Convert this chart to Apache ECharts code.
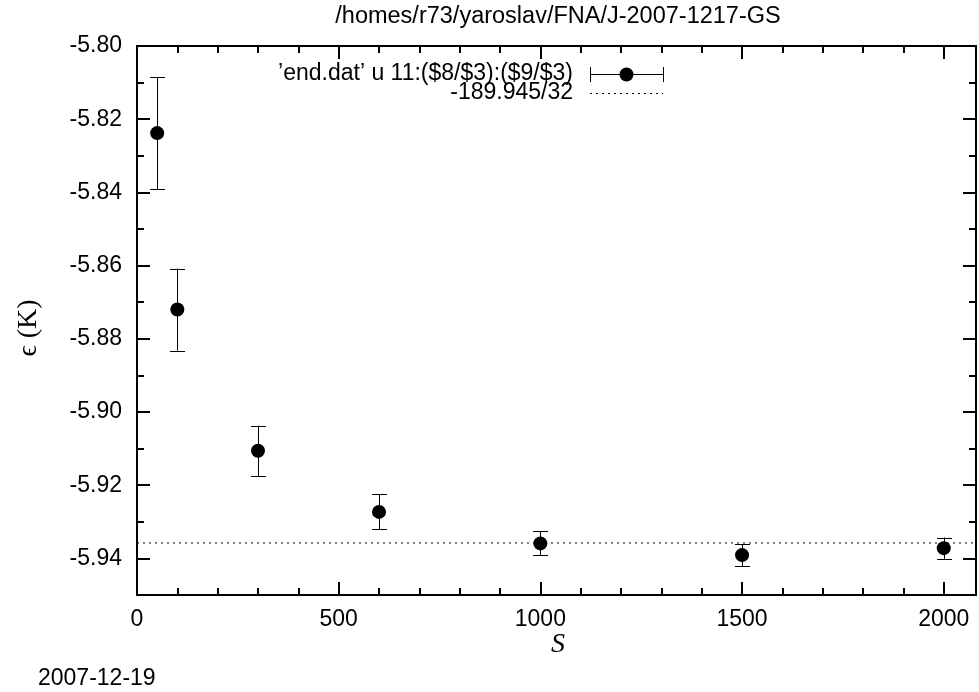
<!DOCTYPE html>
<html>
<head>
<meta charset="utf-8">
<script src="https://cdn.jsdelivr.net/npm/echarts@6/dist/echarts.min.js"></script>
<style>
html,body{margin:0;padding:0;background:#fff;}
#chart{width:979px;height:692px;}
</style>
</head>
<body>
<div id="chart"></div>
<script>
// ---- data ----
const sizes = [50, 100, 300, 600, 1000, 1500, 2000];
const energy = [-5.8238, -5.8720, -5.9106, -5.9273, -5.9359, -5.9391, -5.9372];
const errors = [0.0153, 0.0112, 0.0069, 0.0048, 0.0033, 0.0030, 0.0029];
const refNumerator = -189.945;
const refDenominator = 32;
const xMajorTicks = [0, 500, 1000, 1500, 2000];
const yMajorTicks = [-5.94, -5.92, -5.90, -5.88, -5.86, -5.84, -5.82, -5.80];
const titleText = '/homes/r73/yaroslav/FNA/J-2007-1217-GS';
const dateText = '2007-12-19';
const legendLabels = ["\u2019end.dat\u2019 u 11:($8/$3):($9/$3)", '-189.945/32'];

const X_MIN = 0, X_MAX = 2080, Y_MIN = -5.95, Y_MAX = -5.80;
const refValue = refNumerator / refDenominator;
const points = sizes.map((s, i) => [s, energy[i]]);
const bars = sizes.map((s, i) => [s, energy[i] - errors[i], energy[i] + errors[i]]);
const refLine = [[X_MIN, refValue], [X_MAX, refValue]];

const SANS = 'Liberation Sans, Arial, Helvetica, sans-serif';
const SERIF = 'Liberation Serif, DejaVu Serif, Times New Roman, serif';
const FS = 23;

const chart = echarts.init(document.getElementById('chart'), null, {renderer: 'canvas'});

function xAxisDef(pos, major, showLabel) {
  return {
    type: 'value', position: pos, min: X_MIN, max: X_MAX,
    interval: major ? 500 : 100,
    splitLine: {show: false},
    axisLine: {show: major, onZero: false, lineStyle: {color: '#000', width: 2}},
    axisTick: {show: true, inside: true, length: major ? 13 : 7,
      lineStyle: {color: '#000', width: 2},
      customValues: major ? xMajorTicks : undefined},
    axisLabel: {show: showLabel, margin: 13, color: '#000', fontSize: FS, fontFamily: SANS,
      customValues: showLabel ? xMajorTicks : undefined,
      formatter: v => String(Math.round(v))}
  };
}
function yAxisDef(pos, major, showLabel) {
  return {
    type: 'value', position: pos, min: Y_MIN, max: Y_MAX,
    interval: 0.01,
    splitLine: {show: false},
    axisLine: {show: major, onZero: false, lineStyle: {color: '#000', width: 2}},
    axisTick: {show: true, inside: true, length: major ? 13 : 7,
      lineStyle: {color: '#000', width: 2},
      customValues: major ? yMajorTicks : undefined},
    axisLabel: {show: showLabel, margin: 15, color: '#000', fontSize: FS, fontFamily: SANS,
      customValues: showLabel ? yMajorTicks : undefined,
      formatter: v => v.toFixed(2)}
  };
}

const legendX = 590, legendX2 = 663, legendY1 = 74, legendY2 = 93;

const option = {
  animation: false,
  backgroundColor: '#fff',
  grid: {left: 137, right: 3, top: 46, bottom: 97, containLabel: false},
  xAxis: [
    xAxisDef('bottom', true, true),
    xAxisDef('top', true, false),
    xAxisDef('bottom', false, false),
    xAxisDef('top', false, false)
  ],
  yAxis: [
    yAxisDef('left', true, true),
    yAxisDef('right', true, false),
    yAxisDef('left', false, false),
    yAxisDef('right', false, false)
  ],
  series: [
    {
      type: 'line',
      xAxisIndex: 0, yAxisIndex: 0,
      data: refLine,
      showSymbol: false,
      silent: true,
      lineStyle: {color: '#000', width: 1, type: [2, 4]},
      z: 1
    },
    {
      type: 'custom',
      xAxisIndex: 0, yAxisIndex: 0,
      data: bars,
      encode: {x: 0, y: [1, 2]},
      z: 2,
      renderItem: function (params, api) {
        const x = api.value(0);
        const lo = api.coord([x, api.value(1)]);
        const hi = api.coord([x, api.value(2)]);
        const hw = 7.5;
        const cx = Math.round(lo[0]) + 0.5;
        const style = {stroke: '#000', lineWidth: 1};
        return {
          type: 'group',
          children: [
            {type: 'line', shape: {x1: cx, y1: lo[1], x2: cx, y2: hi[1]}, style: style},
            {type: 'line', shape: {x1: cx - hw, y1: Math.round(lo[1]) + 0.5, x2: cx + hw, y2: Math.round(lo[1]) + 0.5}, style: style},
            {type: 'line', shape: {x1: cx - hw, y1: Math.round(hi[1]) + 0.5, x2: cx + hw, y2: Math.round(hi[1]) + 0.5}, style: style}
          ]
        };
      }
    },
    {
      type: 'scatter',
      xAxisIndex: 0, yAxisIndex: 0,
      data: points,
      symbol: 'circle',
      symbolSize: 14,
      itemStyle: {color: '#000', opacity: 1},
      z: 3
    }
  ],
  graphic: [
    {type: 'text', x: 558, y: 17, style: {text: titleText, font: '23.5px ' + SANS, fill: '#000', textAlign: 'center', textVerticalAlign: 'middle'}},
    {type: 'text', x: 38, y: 679, style: {text: dateText, font: FS + 'px ' + SANS, fill: '#000', textAlign: 'left', textVerticalAlign: 'middle'}},
    {type: 'text', x: 558, y: 645, style: {text: 'S', font: 'italic 28px ' + SERIF, fill: '#000', textAlign: 'center', textVerticalAlign: 'middle'}},
    {type: 'text', x: 29, y: 328, rotation: Math.PI / 2, style: {text: '\u03F5 (K)', font: '28px ' + SERIF, fill: '#000', textAlign: 'center', textVerticalAlign: 'middle'}},
    // legend
    {type: 'text', x: 573, y: legendY1, style: {text: legendLabels[0], font: FS + 'px ' + SANS, fill: '#000', textAlign: 'right', textVerticalAlign: 'middle'}},
    {type: 'text', x: 573, y: legendY2, style: {text: legendLabels[1], font: FS + 'px ' + SANS, fill: '#000', textAlign: 'right', textVerticalAlign: 'middle'}},
    {type: 'line', shape: {x1: legendX, y1: legendY1 + 0.5, x2: legendX2, y2: legendY1 + 0.5}, style: {stroke: '#000', lineWidth: 1}},
    {type: 'line', shape: {x1: legendX + 0.5, y1: legendY1 - 7, x2: legendX + 0.5, y2: legendY1 + 8}, style: {stroke: '#000', lineWidth: 1}},
    {type: 'line', shape: {x1: legendX2 + 0.5, y1: legendY1 - 7, x2: legendX2 + 0.5, y2: legendY1 + 8}, style: {stroke: '#000', lineWidth: 1}},
    {type: 'circle', shape: {cx: (legendX + legendX2) / 2, cy: legendY1 + 0.5, r: 7}, style: {fill: '#000'}},
    {type: 'line', shape: {x1: legendX, y1: legendY2 + 0.5, x2: legendX2, y2: legendY2 + 0.5}, style: {stroke: '#000', lineWidth: 1, lineDash: [2, 4]}}
  ]
};
chart.setOption(option);
</script>
</body>
</html>
